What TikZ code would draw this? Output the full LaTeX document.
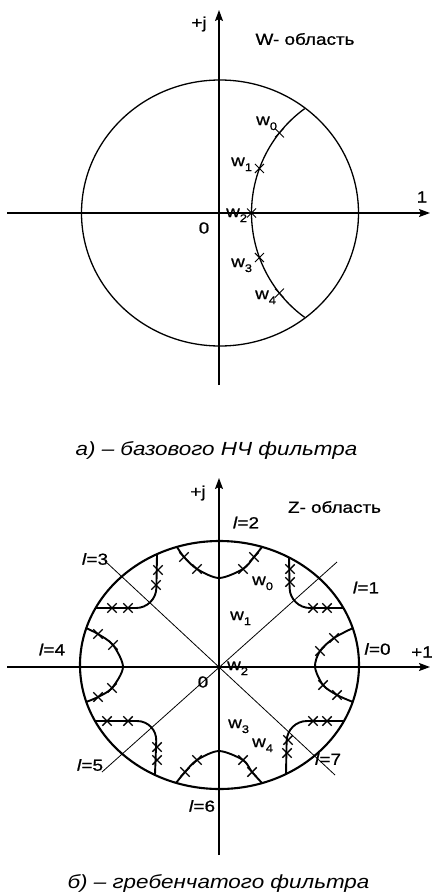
\documentclass[tikz,border=0pt]{standalone}
\usepackage{fontspec}
\setmainfont{Liberation Sans}[FakeStretch=1.18]
\newfontfamily\lblfont{Liberation Sans}[FakeStretch=1.18,FakeBold=0.8]
\usetikzlibrary{arrows.meta,shapes.misc,positioning,calc}
\newcommand{\wlab}[1]{w\raisebox{-5pt}{\fontsize{11}{11}\selectfont #1}}
\newcommand{\llab}[1]{\textit{l}=#1}

\begin{document}
\begin{tikzpicture}[
    x=1pt,y=1pt,
    axis/.style={line width=1.5pt,-{Stealth[length=11pt,width=8pt,inset=2pt]}},
    ring/.style={line width=1.3pt},
    thickring/.style={line width=2.1pt},
    diag/.style={line width=0.8pt},
    curve/.style={line width=1.9pt},
    xmark/.style={draw,cross out,minimum size=8pt,inner sep=0pt,line width=1pt},
    bxmark/.style={xmark,line width=1.4pt},
    lbl/.style={font=\lblfont\fontsize{16}{18}\selectfont,inner sep=0pt},
    wl/.style={lbl,anchor=base west},
    caption/.style={font=\fontsize{19}{22}\selectfont\itshape,inner sep=0pt,anchor=base}
]
\useasboundingbox (0,0) rectangle (431,-894);

% (a) W-plane of the base low-pass filter
\begin{scope}[shift={(219,-213)}]
    \coordinate (o1) at (0,0);
    \coordinate (a1t) at (0,203);
    \coordinate (a1b) at (0,-172);
    \coordinate (a1l) at (-212,0);
    \coordinate (a1r) at (211,0);
    \draw[axis] (a1b) -- (a1t);
    \draw[axis] (a1l) -- (a1r);
    \draw[ring] (1,0) ellipse[x radius=138.5,y radius=133];

    % pass-band arc with samples
    \coordinate (c1) at (161.5,0);
    \draw[ring] ($(c1)+(126:129)$) arc[start angle=126,end angle=234,radius=129];
    \foreach \a/\n in {141.6/0,159.8/1,180/2,200.2/3,218.4/4} {
        \node[xmark] (xa\n) at ($(c1)+(\a:129)$) {};
    }

    \node[lbl] (ja) at (-20,189) {+j};
    \node[lbl] (wreg) at (86,174) {W- область};
    \node[lbl] (one) at (203,16) {1};
    \node[lbl] (zeroa) at (-15,-15) {0};
    \node[wl] (wa0) at (37,88) {\wlab{0}};
    \node[wl] (wa1) at (12,47) {\wlab{1}};
    \node[wl] (wa2) at (7,-4) {\wlab{2}};
    \node[wl] (wa3) at (12,-54) {\wlab{3}};
    \node[wl] (wa4) at (36,-86) {\wlab{4}};
\end{scope}
\node[caption] (capa) at (216.5,-455) {а) – базового НЧ фильтра};

% (b) Z-plane of the comb filter
\begin{scope}[shift={(219,-667)}]
    \coordinate (o2) at (0,0);
    \coordinate (a2t) at (0,189);
    \coordinate (a2b) at (0,-188);
    \coordinate (a2l) at (-212,0);
    \coordinate (a2r) at (211,0);
    \draw[axis] (a2b) -- (a2t);
    \draw[axis] (a2l) -- (a2r);

    % sector borders
    \coordinate (d3) at (-114,106);
    \coordinate (d7) at (116,-108);
    \coordinate (d1) at (118,105);
    \coordinate (d5) at (-117,-105);
    \draw[diag] (d3) -- (d7);
    \draw[diag] (d5) -- (d1);

    \draw[thickring] (0.5,2) ellipse[x radius=139.5,y radius=124];

    % images of the pass band, l = 0..7
    \draw[curve] plot[smooth] coordinates {(134,39) (115,29) (101,16) (96,0) (104,-18) (118,-28) (134,-35)};
    \draw[curve] plot[smooth] coordinates {(-42,120) (-35,110) (-22,98) (0,89) (24,98) (35,110) (43,120)};
    \draw[curve] plot[smooth] coordinates {(-133,39) (-121,33) (-106,22) (-96,0) (-107,-21) (-121,-30) (-133,-35)};
    \draw[curve] plot[smooth] coordinates {(-43,-116) (-34,-105) (-22,-93) (0,-84) (24,-93) (33,-105) (43,-116)};
    \draw[curve,rounded corners=20pt] (70,109) -- (71,59) -- (124,59);
    \draw[curve,rounded corners=20pt] (-62,112) -- (-63,59) -- (-123,59);
    \draw[curve,rounded corners=20pt] (-124,-54) -- (-62,-54) -- (-64,-107);
    \draw[curve,rounded corners=20pt] (124,-54) -- (68,-54) -- (67,-107);

    \foreach \p [count=\k] in {(115,29),(101,16),(104,-18),(118,-28),
        (-35,110),(-22,98),(24,98),(35,110),
        (-121,33),(-106,22),(-107,-21),(-121,-30),
        (-34,-105),(-22,-93),(24,-93),(33,-105),
        (71,98),(71,85),(94,59),(108,59),
        (-61,97),(-63,82),(-91,59),(-107,59),
        (-112,-54),(-91,-54),(-62,-80),(-62,-93),
        (108,-54),(94,-54),(69,-73),(68,-86)} {
        \node[bxmark] (xb\k) at \p {};
    }

    \node[lbl] (jb) at (-21,174) {+j};
    \node[lbl] (zreg) at (115.5,160) {Z- область};
    \node[lbl] (pone) at (203,15) {+1};
    \node[lbl] (zerob) at (-16,-15) {0};
    \node[lbl] (l0) at (158.5,18) {\llab{0}};
    \node[lbl] (l1) at (147,79.5) {\llab{1}};
    \node[lbl] (l2) at (27,144.5) {\llab{2}};
    \node[lbl] (l3) at (-124,108) {\llab{3}};
    \node[lbl] (l4) at (-167,17.5) {\llab{4}};
    \node[lbl] (l5) at (-129,-98) {\llab{5}};
    \node[lbl] (l6) at (-17,-139) {\llab{6}};
    \node[lbl] (l7) at (109,-92) {\llab{7}};
    \node[wl] (wb0) at (33,82) {\wlab{0}};
    \node[wl] (wb1) at (11,47) {\wlab{1}};
    \node[wl] (wb2) at (8,-3) {\wlab{2}};
    \node[wl] (wb3) at (9,-61) {\wlab{3}};
    \node[wl] (wb4) at (33,-80) {\wlab{4}};
\end{scope}
\node[caption] (capb) at (218.5,-888) {б) – гребенчатого фильтра};
\end{tikzpicture}
\end{document}
